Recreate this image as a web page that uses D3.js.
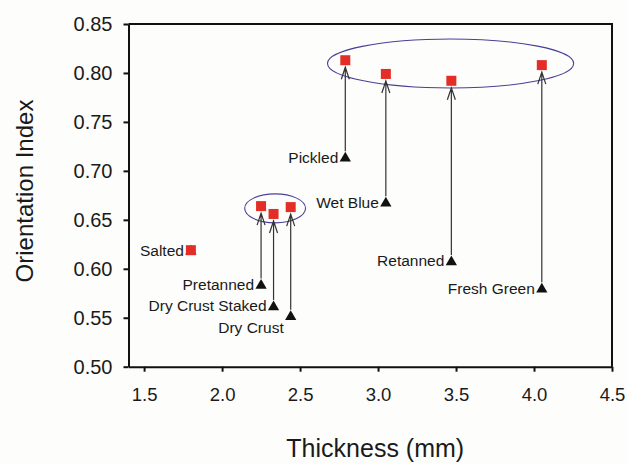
<!DOCTYPE html>
<html>
<head>
<meta charset="utf-8">
<script src="https://cdn.jsdelivr.net/npm/d3@7"></script>
<style>
  body { margin: 0; background: #fdfdfb; }
  svg { display: block; font-family: "Liberation Sans", Arial, sans-serif; }
  .axis path, .axis line { stroke: #111; stroke-width: 2; }
  .axis text { fill: #1a1a1a; }
  .arrow { stroke: #333; stroke-width: 1.2; fill: none; }
  .label { font-size: 15.5px; fill: #1a1a1a; }
</style>
</head>
<body>
<div id="chart"></div>
<script>
// process stages, thickness and orientation index (triangle = before, square = after)
var stages = ["Salted", "Pretanned", "Dry Crust Staked", "Dry Crust", "Pickled", "Wet Blue", "Retanned", "Fresh Green"];
var thickness = [1.80, 2.25, 2.33, 2.44, 2.79, 3.05, 3.47, 4.05];
var triangleIndex = [0.619, 0.584, 0.562, 0.552, 0.714, 0.668, 0.608, 0.580];
var squareIndex = [0.619, 0.664, 0.656, 0.663, 0.813, 0.799, 0.792, 0.808];

var xTicks = [1.5, 2.0, 2.5, 3.0, 3.5, 4.0, 4.5];
var yTicks = [0.50, 0.55, 0.60, 0.65, 0.70, 0.75, 0.80, 0.85];

// groups circled on the chart (data units)
var groupCx = [3.465, 2.34];
var groupCy = [0.8097, 0.6617];
var groupRx = [0.789, 0.195];
var groupRy = [0.025, 0.0148];

function init(){
    var w = 628;
    var h = 464;
    var left = 128.5, right = 612, top = 24, bottom = 366.7;

    var xScale = d3.scaleLinear().domain([1.4, 4.5]).range([left, right]);
    var yScale = d3.scaleLinear().domain([0.50, 0.85]).range([bottom, top]);

    var svg = d3.select("#chart")
                .append("svg")
                .attr("width", w)
                .attr("height", h);

    //frame (top and right)
    svg.append("path")
        .attr("d", "M" + left + "," + top + "H" + right + "V" + bottom)
        .attr("fill", "none")
        .attr("stroke", "#111")
        .attr("stroke-width", 2);

    var xAxis = d3.axisBottom(xScale)
        .tickValues(xTicks)
        .tickSize(5)
        .tickSizeOuter(0)
        .tickPadding(16)
        .tickFormat(d3.format(".1f"));
    var yAxis = d3.axisLeft(yScale)
        .tickValues(yTicks)
        .tickSize(5)
        .tickSizeOuter(0)
        .tickPadding(11)
        .tickFormat(d3.format(".2f"));

    var gx = svg.append("g")
        .attr("class", "axis")
        .attr("transform", "translate(0," + bottom + ")")
        .call(xAxis);
    gx.selectAll("text").style("font-size", "18.5px");

    var gy = svg.append("g")
        .attr("class", "axis")
        .attr("transform", "translate(" + left + ",0)")
        .call(yAxis);
    gy.selectAll("text").style("font-size", "20px");

    //axis titles
    svg.append("text")
        .attr("x", (left + right) / 2 + 5)
        .attr("y", 457)
        .attr("text-anchor", "middle")
        .style("font-size", "25px")
        .style("fill", "#1a1a1a")
        .text("Thickness (mm)");

    svg.append("text")
        .attr("transform", "translate(33," + 191 + ") rotate(-90)")
        .attr("text-anchor", "middle")
        .style("font-size", "24px")
        .style("fill", "#1a1a1a")
        .text("Orientation Index");

    //ellipses
    svg.selectAll(".group")
        .data(groupCx)
        .enter()
        .append("ellipse")
        .attr("cx", function(d) { return xScale(d); })
        .attr("cy", function(d, i) { return yScale(groupCy[i]); })
        .attr("rx", function(d, i) { return xScale(d + groupRx[i]) - xScale(d); })
        .attr("ry", function(d, i) { return yScale(groupCy[i] - groupRy[i]) - yScale(groupCy[i]); })
        .attr("fill", "none")
        .attr("stroke", "#4b3f97")
        .attr("stroke-width", 1.1);

    var idx = d3.range(stages.length);

    //arrows from triangle to square
    var arrows = svg.selectAll(".arrowg")
        .data(idx.filter(function(i) { return squareIndex[i] !== triangleIndex[i]; }))
        .enter()
        .append("g");
    arrows.append("path")
        .attr("class", "arrow")
        .attr("d", function(i) {
            var x = xScale(thickness[i]);
            var y0 = yScale(triangleIndex[i]) - 6;
            var y1 = yScale(squareIndex[i]) + 7;
            return "M" + x + "," + y0 + "V" + y1 +
                   "M" + (x - 4) + "," + (y1 + 12) + "L" + x + "," + y1 + "L" + (x + 4) + "," + (y1 + 12);
        });

    //triangles
    svg.selectAll(".tri")
        .data(idx)
        .enter()
        .append("path")
        .attr("d", d3.symbol().type(d3.symbolTriangle).size(55))
        .attr("transform", function(i) {
            return "translate(" + xScale(thickness[i]) + "," + (yScale(triangleIndex[i]) + 1) + ")";
        })
        .attr("fill", "#111");

    //squares
    svg.selectAll(".sq")
        .data(idx)
        .enter()
        .append("rect")
        .attr("x", function(i) { return xScale(thickness[i]) - 5; })
        .attr("y", function(i) { return yScale(squareIndex[i]) - 5; })
        .attr("width", 10)
        .attr("height", 10)
        .attr("fill", "#e42d27");

    //labels
    svg.selectAll(".label")
        .data(idx)
        .enter()
        .append("text")
        .attr("class", "label")
        .attr("text-anchor", "end")
        .attr("x", function(i) { return xScale(thickness[i]) - 7; })
        .attr("y", function(i) {
            if (stages[i] === "Dry Crust") return yScale(triangleIndex[i]) + 17.5;
            return yScale(triangleIndex[i]) + 5.5;
        })
        .text(function(i) { return stages[i]; });
}
window.onload = init;
</script>
</body>
</html>
